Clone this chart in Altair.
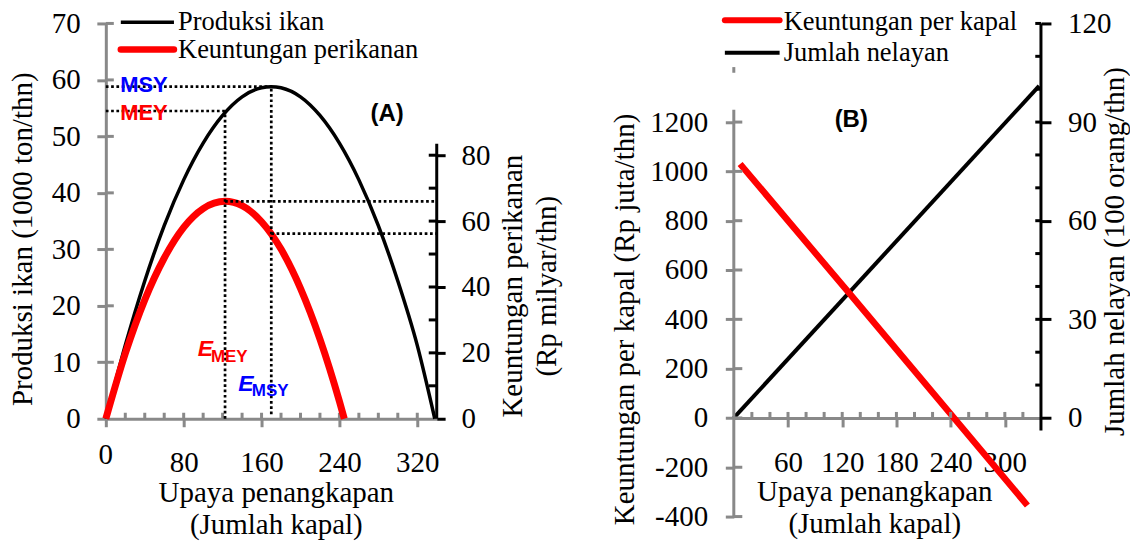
import altair as alt
import pandas as pd

# ---------------- values ----------------
# Panel (A): fish production and fishery profit against fishing effort
effort_a = [0, 20, 40, 60, 80, 100, 120, 140, 160, 170, 180, 200, 220, 240, 260, 280, 300, 320, 338]
produksi = [0, 13.0, 24.4, 34.2, 42.3, 48.8, 53.7, 57.0, 58.6, 58.8, 58.6, 57.0, 53.7, 48.8, 42.3, 34.2, 24.4, 13.0, 0]
effort_a_profit = [0, 20, 40, 60, 80, 100, 122.5, 140, 160, 180, 200, 220, 240, 245]
keuntungan = [0, 19.8, 36.1, 48.8, 58.1, 63.8, 66.0, 64.7, 59.8, 51.5, 39.6, 24.2, 5.3, 0]
e_mey, e_msy = 122.5, 170
yield_mey, yield_msy = 54.5, 58.8
profit_mey, profit_msy = 66.0, 56.2

# Panel (B): profit per vessel and number of fishers against fishing effort
effort_b_profit = [7, 128, 325]
keuntungan_kapal = [1030, 505, -355]
effort_b_fishers = [0, 338]
jumlah_nelayan = [0, 101]

# axis ticks / labels
a_x_ticks = [0, 80, 160, 240, 320]
a_x_minor = list(range(20, 340, 20))
a_yl_ticks = list(range(0, 71, 10))
a_yr_ticks = [0, 20, 40, 60, 80]
a_yr_minor = list(range(10, 81, 10))
b_x_ticks = [60, 120, 180, 240, 300]
b_x_minor = list(range(20, 340, 20))
b_yl_ticks = list(range(-400, 1201, 200))
b_yr_minor = list(range(10, 121, 10))
b_yr_ticks = [0, 30, 60, 90, 120]
legend_a = ["Produksi ikan", "Keuntungan perikanan"]
legend_b = ["Keuntungan per kapal", "Jumlah nelayan"]

# ---------------- styling / layout ----------------
GRAY = "#898989"
SERIF = "Liberation Serif"
SANS = "Liberation Sans"
FS = 29
DOT = dict(color="black", strokeWidth=2.7, strokeDash=[2.7, 2.6])
TXT = dict(labelFont=SERIF, labelFontSize=FS, labelColor="black",
           titleFont=SERIF, titleFontSize=FS, titleFontWeight="normal", titleColor="black",
           grid=False, labelFlush=False, labelOverlap=False)

WA, HA = 331.5, 396
WB, HB = 307.7, 494
PXAX, PXAYL, PXAYR = WA / 340, HA / 70, HA / 120
PXBX, PXBYL, PXBYR = WB / 340, HB / 2000, HB / 150

xA = alt.Scale(domain=[0, 340], nice=False, zero=False)
yAL = alt.Scale(domain=[0, 70], nice=False, zero=False)
yAR = alt.Scale(domain=[0, 120], nice=False, zero=False)
xB = alt.Scale(domain=[0, 340], nice=False, zero=False)
yBL = alt.Scale(domain=[-400, 1600], nice=False, zero=False)
yBR = alt.Scale(domain=[-30, 120], nice=False, zero=False)

# ---------------- axes ----------------
axA_x = alt.Axis(orient="bottom", values=a_x_ticks, domainColor=GRAY, domainWidth=3,
                 tickColor=GRAY, tickWidth=3, tickSize=8, labelPadding=21.8,
                 labelExpr="datum.value == 0 ? '' : datum.label",
                 title=["Upaya penangkapan", "(Jumlah kapal)"], titleBaseline="top",
                 titleX=170.3, titleY=60.1, titleLineHeight=32, **TXT)
axA_yl = alt.Axis(orient="left", values=a_yl_ticks, domainColor=GRAY, domainWidth=3,
                  tickColor=GRAY, tickWidth=3, tickSize=9, labelPadding=16.7,
                  title="Produksi ikan (1000 ton/thn)", titleAngle=270, titleBaseline="bottom",
                  titleAlign="center", titleX=-68.7, titleY=215.7, **TXT)
axA_yr = alt.Axis(orient="right", values=a_yr_ticks, domain=False, tickColor="black",
                  tickWidth=3, tickSize=8.4, labelPadding=16,
                  title=["Keuntungan perikanan", "(Rp milyar/thn)"], titleAngle=270,
                  titleBaseline="top", titleAlign="center", titleX=62.2,
                  titleY=262.7, titleLineHeight=34, **TXT)
axB_x = alt.Axis(orient="bottom", offset=-(HB - 395.2), values=b_x_ticks, domainColor=GRAY,
                 domainWidth=3, tickColor=GRAY, tickWidth=3, tickSize=9, labelPadding=21.6,
                 title=["Upaya penangkapan", "(Jumlah kapal)"], titleBaseline="top",
                 titleX=140.7, titleY=59.9, titleLineHeight=32, **TXT)
axB_yl = alt.Axis(orient="left", values=b_yl_ticks, domain=False, tickColor=GRAY,
                  tickWidth=3, tickSize=8.5, labelPadding=17.7,
                  labelExpr="'' + datum.value",
                  title="Keuntungan per kapal (Rp juta/thn)", titleAngle=270,
                  titleBaseline="bottom", titleAlign="center", titleX=-94.4, titleY=296, **TXT)
axB_yr = alt.Axis(orient="right", values=b_yr_ticks, domain=False, tickColor="black",
                  tickWidth=3, tickSize=10, labelPadding=16.6,
                  title="Jumlah nelayan (100 orang/thn)", titleAngle=270,
                  titleBaseline="top", titleAlign="center", titleX=59.3, titleY=228, **TXT)


def enc(xf, yf, xs, ys, xa, ya):
    return dict(x=alt.X(xf, type="quantitative", scale=xs, axis=xa),
                y=alt.Y(yf, type="quantitative", scale=ys, axis=ya))


def line(xv, yv, xs, ys, xa, ya, **mark):
    df = pd.DataFrame({"x": xv, "y": yv})
    return alt.Chart(df).mark_line(**mark).encode(**enc("x", "y", xs, ys, xa, ya))


def rules(rows, xs, ys, xa, ya, **mark):
    df = pd.DataFrame(rows, columns=["x", "x2", "y", "y2"])
    return alt.Chart(df).mark_rule(**mark).encode(
        x2="x2:Q", y2="y2:Q", **enc("x", "y", xs, ys, xa, ya))


def texts(rows, xs, ys, xa, ya, **mark):
    df = pd.DataFrame(rows, columns=["x", "y", "t"])
    return alt.Chart(df).mark_text(**mark).encode(
        text="t:N", **enc("x", "y", xs, ys, xa, ya))


# ================= Panel A =================
AL = (xA, yAL, axA_x, axA_yl)
AR = (xA, yAR, axA_x, axA_yr)
ALn = (xA, yAL, axA_x, None)
ARn = (xA, yAR, axA_x, None)

A_left = alt.layer(
    line(effort_a, produksi, *AL, color="black", strokeWidth=3.5, interpolate="monotone"),
    rules([[0, 8 / PXAX, t, t] for t in a_yl_ticks[1:]], *AL, color=GRAY, strokeWidth=3),
    rules([[m, m, 0, 6 / PXAYL] for m in a_x_minor], *AL, color=GRAY, strokeWidth=3),
    texts([[0, 0, "0"]], *AL, align="center", baseline="middle", dy=36.8,
          font=SERIF, fontSize=FS, color="black"),
)

A_right = alt.layer(
    line(effort_a_profit, keuntungan, *AR, color="red", strokeWidth=7, interpolate="monotone"),
    rules([[340, 340, 0, 83.5]], *AR, color="black", strokeWidth=3),
    rules([[340 - 8 / PXAX, 340, t, t] for t in a_yr_minor], *AR, color="black", strokeWidth=3),
)

A_top_left = alt.layer(
    rules([[0, e_msy, yield_msy, yield_msy], [0, e_mey, yield_mey, yield_mey],
           [e_mey, e_mey, 0, yield_mey], [e_msy, e_msy, 0.8, yield_msy]], *ALn, **DOT),
    texts([[14.7, 57.86, "MSY"]], *ALn, align="left", baseline="alphabetic",
          font=SANS, fontWeight="bold", fontSize=22, color="#0000ff"),
    texts([[14.7, 52.86, "MEY"]], *ALn, align="left", baseline="alphabetic",
          font=SANS, fontWeight="bold", fontSize=22, color="#ff0000"),
    texts([[94.4, 11.14, "E"]], *ALn, align="left", baseline="alphabetic",
          font=SANS, fontWeight="bold", fontStyle="italic", fontSize=23, color="#ff0000"),
    texts([[108, 10.13, "MEY"]], *ALn, align="left", baseline="alphabetic",
          font=SANS, fontWeight="bold", fontSize=17, color="#ff0000"),
    texts([[136, 4.83, "E"]], *ALn, align="left", baseline="alphabetic",
          font=SANS, fontWeight="bold", fontStyle="italic", fontSize=23, color="#0000ff"),
    texts([[150, 3.94, "MSY"]], *ALn, align="left", baseline="alphabetic",
          font=SANS, fontWeight="bold", fontSize=17, color="#0000ff"),
    texts([[289, 54.0, "(A)"]], *ALn, align="center", baseline="middle",
          font=SANS, fontWeight="bold", fontSize=24, color="black"),
    rules([[15.4, 70, 70.2, 70.2]], *ALn, color="black", strokeWidth=3.5),
    rules([[15.4, 70, 65.4, 65.4]], *ALn, color="red", strokeWidth=6.5, strokeCap="round"),
    texts([[74.2, 68.8, legend_a[0]], [74.2, 63.9, legend_a[1]]], *ALn, align="left",
          baseline="alphabetic", font=SERIF, fontSize=26.5, color="black"),
)

A_top_right = alt.layer(
    rules([[e_mey, 340, profit_mey, profit_mey], [e_msy, 340, profit_msy, profit_msy]],
          *ARn, **DOT),
)

panelA = alt.layer(A_left, A_right, A_top_left, A_top_right).resolve_scale(
    y="independent").properties(width=WA, height=HA)

# ================= Panel B =================
BL = (xB, yBL, axB_x, axB_yl)
BR = (xB, yBR, axB_x, axB_yr)
BRn = (xB, yBR, axB_x, None)

B_right = alt.layer(
    line(effort_b_fishers, jumlah_nelayan, *BR, color="black", strokeWidth=4),
    rules([[340, 340, -3.8, 120]], *BR, color="black", strokeWidth=3),
    rules([[340 - 5.7 / PXBX, 340, t, t] for t in b_yr_minor], *BR, color="black", strokeWidth=3),
)

B_left = alt.layer(
    line(effort_b_profit, keuntungan_kapal, *BL, color="red", strokeWidth=6.5),
    rules([[0, 0, -400, 1250], [0, 0, 1400, 1423]], *BL, color=GRAY, strokeWidth=3),
    rules([[0, 8.5 / PXBX, t, t] for t in b_yl_ticks], *BL, color=GRAY, strokeWidth=3),
    rules([[m, m, 0, 6 / PXBYL] for m in b_x_minor], *BL, color=GRAY, strokeWidth=3),
    texts([[130, 1210, "(B)"]], *BL, align="center", baseline="middle",
          font=SANS, fontWeight="bold", fontSize=24, color="black"),
)

B_top = alt.layer(
    rules([[-9.9, 50.7, 121.0, 121.0]], *BRn, color="red", strokeWidth=6, strokeCap="round"),
    rules([[-9.9, 50.7, 111.1, 111.1]], *BRn, color="black", strokeWidth=4),
    texts([[55.2, 118.1, legend_b[0]], [55.2, 108.5, legend_b[1]]], *BRn, align="left",
          baseline="alphabetic", font=SERIF, fontSize=26.5, color="black"),
)

panelB = alt.layer(B_right, B_left, B_top).resolve_scale(
    y="independent").properties(width=WB, height=HB)

chart = alt.hconcat(panelA, panelB, spacing=297.1, bounds="flush").properties(
    padding={"left": 0, "top": 0, "right": 0, "bottom": 0}, background="white"
).configure_view(stroke=None).configure_axis(**TXT)

chart.save("out.html", embed_options={"renderer": "svg", "actions": False})
